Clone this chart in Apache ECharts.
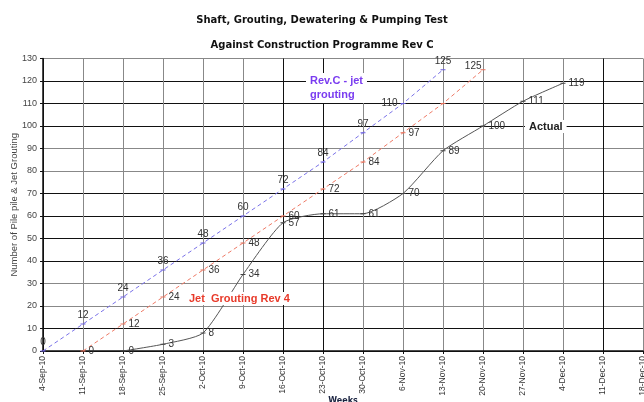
<!DOCTYPE html>
<html>
<head>
<meta charset="utf-8">
<script src="https://cdn.jsdelivr.net/npm/echarts@6/dist/echarts.min.js"></script>
<style>html,body{margin:0;padding:0;background:#fff;}#c{width:644px;height:402px;}</style>
</head>
<body>
<div id="c"></div>
<script>
var categories = ['4-Sep-10','11-Sep-10','18-Sep-10','25-Sep-10','2-Oct-10','9-Oct-10','16-Oct-10','23-Oct-10','30-Oct-10','6-Nov-10','13-Nov-10','20-Nov-10','27-Nov-10','4-Dec-10','11-Dec-10','18-Dec-10'];
var revC = [0,12,24,36,48,60,72,84,97,110,125,null,null,null,null,null];
var rev4 = [null,0,12,24,36,48,60,72,84,97,110,125,null,null,null,null];
var actual = [null,null,0,3,8,34,57,61,61,70,89,100,111,119,null,null];
var yTicks = [0,130,10];

var chart = echarts.init(document.getElementById('c'));

function build(arr, special) {
  return arr.map(function(v, i){
    if (v === null) return null;
    var item = {value: v};
    if (special && special[i]) item.label = special[i];
    return item;
  });
}

var yColors = ['#111','#111','#888','#888','#111','#111','#111','#111','#888','#888','#111','#111','#111','#888'];
var xColors = ['#111','#888','#888','#888','#888','#888','#111','#111','#888','#888','#888','#888','#888','#888','#111','#888'];

chart.setOption({
  backgroundColor:'#fff',
  animation:false,
  title:[
    {text:'Shaft, Grouting, Dewatering & Pumping Test', left:'center', top:10, textStyle:{fontSize:10, fontWeight:'bold', color:'#111', fontFamily:'DejaVu Sans'}},
    {text:'Against Construction Programme Rev C', left:'center', top:35, textStyle:{fontSize:10, fontWeight:'bold', color:'#111', fontFamily:'DejaVu Sans'}}
  ],
  grid:{left:43, right:1, top:58.5, bottom:51, outerBoundsMode:'none', containLabel:false},
  xAxis:{
    type:'category', data:categories, boundaryGap:false,
    name:'Weeks', nameLocation:'middle', nameGap:46, nameMoveOverlap:false,
    nameTextStyle:{fontSize:8, fontWeight:'bold', color:'#1a2340', fontFamily:'DejaVu Sans'},
    axisLine:{lineStyle:{color:'#111', width:1.5}},
    axisTick:{show:true, length:3, lineStyle:{color:'#111'}},
    axisLabel:{rotate:90, fontSize:8.5, color:'#333', margin:5, fontFamily:'Liberation Sans', interval:0},
    splitLine:{show:true, lineStyle:{color:xColors, width:1}}
  },
  yAxis:{
    type:'value', min:yTicks[0], max:yTicks[1], interval:yTicks[2],
    name:'Number of Pile pile & Jet Grouting', nameLocation:'middle', nameGap:24, nameMoveOverlap:false,
    nameTextStyle:{fontSize:9.5, color:'#444', fontFamily:'Liberation Sans'},
    axisLine:{show:true, lineStyle:{color:'#111', width:1.5}},
    axisTick:{show:true, length:3, lineStyle:{color:'#111'}},
    axisLabel:{fontSize:9, color:'#444', margin:6, fontFamily:'Liberation Sans'},
    splitLine:{show:true, lineStyle:{color:yColors, width:1}}
  },
  series:[
    {
      name:'Rev.C - jet grouting', type:'line',
      data:build(revC, {9:{position:'left'}}),
      symbol:'rect', symbolSize:[5,1],
      itemStyle:{color:'#6b5fe0'},
      lineStyle:{color:'#7a72e8', width:1, type:[4,3]},
      label:{show:true, position:'top', distance:3, fontSize:10, color:'#333', fontFamily:'Liberation Sans'}
    },
    {
      name:'Jet Grouting Rev 4', type:'line',
      data:build(rev4, {10:{show:false}, 11:{position:'left', offset:[4,-4]}}),
      symbol:'rect', symbolSize:[5,1],
      itemStyle:{color:'#e8705a'},
      lineStyle:{color:'#ee7a66', width:1, type:[4,3]},
      label:{show:true, position:'right', distance:3, fontSize:10, color:'#333', fontFamily:'Liberation Sans'}
    },
    {
      name:'Actual', type:'line', smooth:0.2,
      data:build(actual, null),
      symbol:'rect', symbolSize:[5,1],
      itemStyle:{color:'#444'},
      lineStyle:{color:'#555', width:1},
      label:{show:true, position:'right', distance:3, fontSize:10, color:'#333', fontFamily:'Liberation Sans'}
    }
  ],
  graphic:[
    {type:'text', z:100, left:306, top:73, style:{text:'Rev.C - jet\ngrouting', fill:'#7a3cf0', font:'bold 11px "Liberation Sans"', lineHeight:14, backgroundColor:'#fff', padding:[1,4,1,4]}},
    {type:'text', z:100, left:184, top:292, style:{text:'Jet  Grouting Rev 4', fill:'#e83a2a', font:'bold 11px "Liberation Sans"', backgroundColor:'#fff', padding:[1,5,1,5]}},
    {type:'text', z:100, left:525, top:120, style:{text:'Actual', fill:'#222', font:'bold 11px "Liberation Sans"', backgroundColor:'#fff', padding:[1,4,1,4]}}
  ]
});
</script>
</body>
</html>
